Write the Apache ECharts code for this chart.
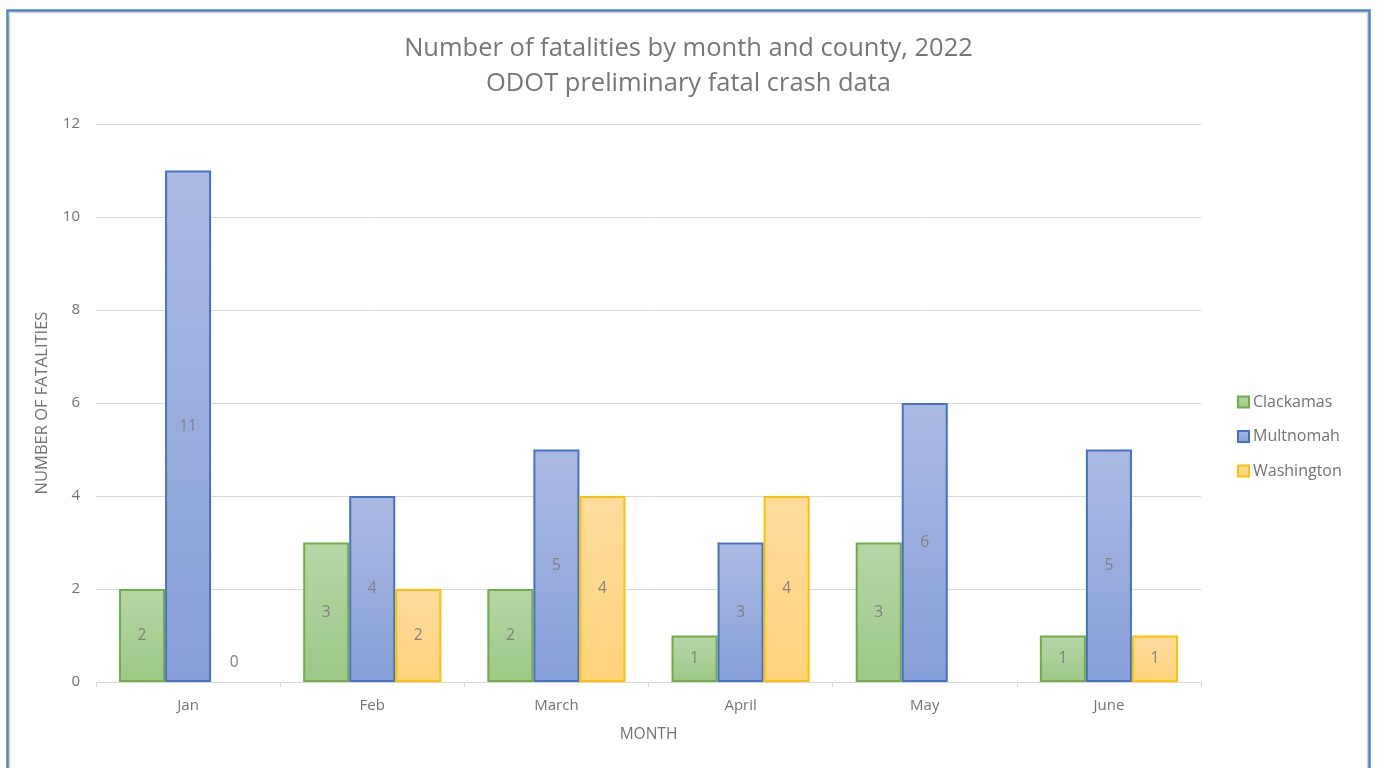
<!DOCTYPE html>
<html>
<head>
<meta charset="utf-8">
<script src="https://cdn.jsdelivr.net/npm/echarts@6/dist/echarts.min.js"></script>
<style>
  html, body { margin: 0; padding: 0; background: #fff; }
  #chart { width: 1377px; height: 768px; }
</style>
</head>
<body>
<div id="chart"></div>
<script>
// Monthly fatality counts per county (2022, preliminary)
const months = ['Jan', 'Feb', 'March', 'April', 'May', 'June'];
const clackamas = [2, 3, 2, 1, 3, 1];
const multnomah = [11, 4, 5, 3, 6, 5];
const washington = [0, 2, 4, 4, null, 1];
const yTicks = [0, 2, 4, 6, 8, 10, 12];

const FONT = '"Open Sans", "Liberation Sans", sans-serif';
const TEXT_GRAY = '#737373';

function grad(top, bottom) {
  return new echarts.graphic.LinearGradient(0, 0, 0, 1, [
    { offset: 0, color: top },
    { offset: 1, color: bottom }
  ]);
}

// zero-height bars: no outline, label sits just above the baseline
function withZeroLabels(values) {
  return values.map(v => v === 0
    ? { value: v, itemStyle: { borderWidth: 0 }, label: { position: 'top', distance: 11 } }
    : v);
}

function barSeries(name, values, fill, border) {
  return {
    name: name,
    type: 'bar',
    data: withZeroLabels(values),
    barGap: '0%',
    barCategoryGap: '25%',
    itemStyle: { color: fill, borderColor: border, borderWidth: 2 },
    label: {
      show: true,
      position: 'inside',
      color: '#808080',
      fontSize: 15.5,
      fontFamily: FONT
    },
    emphasis: { disabled: true }
  };
}

const chart = echarts.init(document.getElementById('chart'), null, { renderer: 'canvas' });

chart.setOption({
  animation: false,
  backgroundColor: '#ffffff',
  title: {
    text: 'Number of fatalities by month and county, 2022\nODOT preliminary fatal crash data',
    left: 'center',
    top: 26,
    textStyle: {
      fontFamily: FONT,
      fontSize: 25.5,
      fontWeight: 'normal',
      color: '#767676',
      lineHeight: 35
    }
  },
  legend: {
    orient: 'vertical',
    left: 1232,
    top: 389,
    itemWidth: 11,
    itemHeight: 11,
    itemGap: 18.5,
    icon: 'rect',
    textStyle: { fontFamily: FONT, fontSize: 16, color: TEXT_GRAY, padding: [0, 0, 0, -1] },
    data: ['Clackamas', 'Multnomah', 'Washington']
  },
  grid: { left: 96, right: 176, top: 124, bottom: 86 },
  xAxis: {
    type: 'category',
    data: months,
    name: 'MONTH',
    nameLocation: 'middle',
    nameGap: 45,
    nameTextStyle: { fontFamily: FONT, fontSize: 15.5, color: TEXT_GRAY },
    axisLine: { lineStyle: { color: '#d9d9d9', width: 1 } },
    axisTick: { show: true, length: 5, lineStyle: { color: '#d9d9d9' } },
    axisLabel: { margin: 16, fontFamily: FONT, fontSize: 15, color: TEXT_GRAY }
  },
  yAxis: {
    type: 'value',
    min: yTicks[0],
    max: yTicks[yTicks.length - 1],
    interval: yTicks[1] - yTicks[0],
    name: 'NUMBER OF FATALITIES',
    nameLocation: 'middle',
    nameGap: 45,
    nameTextStyle: { fontFamily: FONT, fontSize: 16.5, color: TEXT_GRAY },
    axisLine: { show: false },
    axisTick: { show: false },
    axisLabel: { margin: 16, fontFamily: FONT, fontSize: 15, color: TEXT_GRAY },
    splitLine: { lineStyle: { color: '#d9d9d9', width: 1 } }
  },
  series: [
    barSeries('Clackamas', clackamas, grad('#b6d6a6', '#9cc886'), '#70ad47'),
    barSeries('Multnomah', multnomah, grad('#abbae2', '#879fd8'), '#4472c4'),
    barSeries('Washington', washington, grad('#ffdc9f', '#ffd47c'), '#ffc000')
  ],
  graphic: [
    {
      type: 'rect',
      silent: true,
      shape: { x: 9.5, y: 12.5, width: 1358, height: 800 },
      style: { fill: null, stroke: '#d4d4d4', lineWidth: 1.5 }
    },
    {
      type: 'rect',
      silent: true,
      shape: { x: 7.5, y: 10.5, width: 1362, height: 800 },
      style: { fill: null, stroke: '#4f81bd', lineWidth: 2.5 }
    }
  ]
});
</script>
</body>
</html>
